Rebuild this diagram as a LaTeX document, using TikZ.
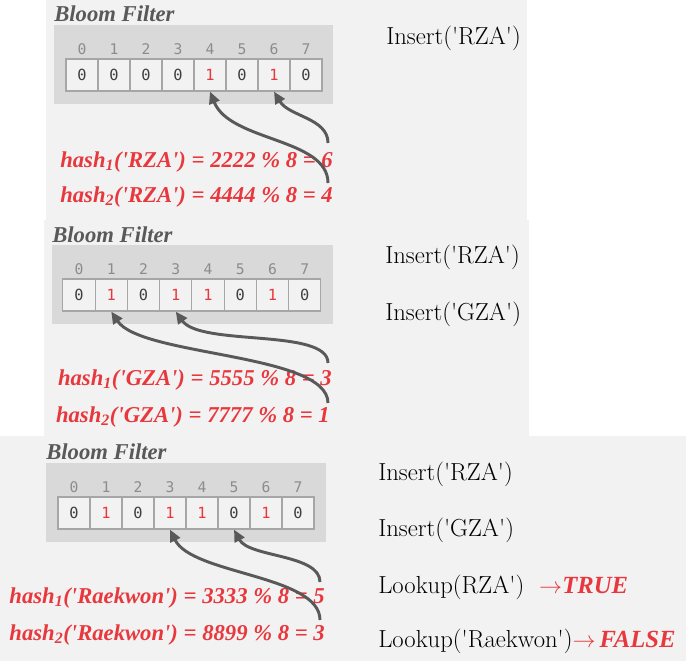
\documentclass[tikz,border=0pt]{standalone}
\usepackage{fontspec}
\usepackage{tikz}
\usetikzlibrary{arrows.meta}
\newfontfamily\bitfont{DejaVu Sans Mono}
\newfontfamily\headfont{Liberation Serif}
\newcommand{\squote}{\textquotesingle}

\definecolor{panelgray}{HTML}{F2F2F2}
\definecolor{boxgray}{HTML}{D9D9D9}
\definecolor{cellline}{HTML}{A6A6A6}
\definecolor{hashred}{HTML}{E8383D}
\definecolor{arrowgray}{HTML}{595959}
\definecolor{idxgray}{HTML}{8C8C8C}

\tikzset{
  cell/.style={draw=cellline, line width=0.9pt, fill=panelgray, minimum width=24pt,
    minimum height=24pt, inner sep=0pt, font=\bitfont\fontsize{11.5}{11.5}\selectfont},
  zero/.style={text=black!75},
  one/.style={text=hashred},
  idx/.style={font=\bitfont\fontsize{11}{11}\selectfont, text=idxgray},
  title/.style={font=\headfont\bfseries\itshape\fontsize{17}{17}\selectfont, text=arrowgray,
    anchor=west, inner sep=0pt},
  hash/.style={font=\headfont\bfseries\itshape\fontsize{17}{17}\selectfont, text=hashred,
    anchor=east, inner sep=0pt},
  op/.style={font=\fontsize{18.5}{18.5}\selectfont, anchor=west, inner sep=0pt},
  hit/.style={-{Triangle[length=9pt,width=8pt]}, draw=arrowgray, line width=2.2pt},
}

\begin{document}
\begin{tikzpicture}[x=0.75pt, y=-0.75pt]
    \useasboundingbox (0,0) rectangle (686,661);
    % three screenshots
    \fill[panelgray] (46,0) rectangle (527,220);
    \fill[panelgray] (44,220) rectangle (529,436);
    \fill[panelgray] (0,436) rectangle (686,661);

    % first: insert RZA
    \node[title] (ta) at (54,14) {Bloom Filter};
    \fill[boxgray] (54,25) rectangle (333,104);
    \foreach \v/\c [count=\i from 0] in {0/zero,0/zero,0/zero,0/zero,1/one,0/zero,1/one,0/zero} {
        \node[idx] (ia\i) at ({82+32*\i},49) {\i};
        \node[cell, \c] (a\i) at ({82+32*\i},75) {\v};
    }
    \node[hash] (ha1) at (333,162) {hash\textsubscript{1}(\squote RZA\squote) = 2222 \% 8 = 6};
    \node[hash] (ha2) at (333,197) {hash\textsubscript{2}(\squote RZA\squote) = 4444 \% 8 = 4};
    \coordinate (sa1) at (328,143);
    \coordinate (sa2) at (328,183);
    \draw[hit] (sa1) .. controls +(0,-25) and +(15,25) .. (a6.south);
    \draw[hit] (sa2) .. controls +(0,-45) and +(20,50) .. (a4.south);
    \node[op] (oa1) at (386,38) {Insert(\squote RZA\squote)};

    % second: insert GZA
    \node[title] (tb) at (52,235) {Bloom Filter};
    \fill[boxgray] (52,245) rectangle (333,324);
    \foreach \v/\c [count=\i from 0] in {0/zero,1/one,0/zero,1/one,1/one,0/zero,1/one,0/zero} {
        \node[idx] (ib\i) at ({79+32.25*\i},269) {\i};
        \node[cell, \c, minimum width=24.2pt] (b\i) at ({79+32.25*\i},295) {\v};
    }
    \node[hash] (hb1) at (332,380) {hash\textsubscript{1}(\squote GZA\squote) = 5555 \% 8 = 3};
    \node[hash] (hb2) at (330,417) {hash\textsubscript{2}(\squote GZA\squote) = 7777 \% 8 = 1};
    \coordinate (sb1) at (328,363);
    \coordinate (sb2) at (328,403);
    \draw[hit] (sb1) .. controls +(0,-35) and +(25,35) .. (b3.south);
    \draw[hit] (sb2) .. controls +(0,-50) and +(30,45) .. (b1.south);
    \node[op] (ob1) at (385,257) {Insert(\squote RZA\squote)};
    \node[op] (ob2) at (385,314) {Insert(\squote GZA\squote)};

    % third: lookups
    \node[title] (tc) at (46,452) {Bloom Filter};
    \fill[boxgray] (46,463) rectangle (326,542);
    \foreach \v/\c [count=\i from 0] in {0/zero,1/one,0/zero,1/one,1/one,0/zero,1/one,0/zero} {
        \node[idx] (ic\i) at ({74+32*\i},487) {\i};
        \node[cell, \c] (c\i) at ({74+32*\i},513) {\v};
    }
    \node[hash] (hc1) at (325,598) {hash\textsubscript{1}(\squote Raekwon\squote) = 3333 \% 8 = 5};
    \node[hash] (hc2) at (325,635) {hash\textsubscript{2}(\squote Raekwon\squote) = 8899 \% 8 = 3};
    \coordinate (sc1) at (320,582);
    \coordinate (sc2) at (320,620);
    \draw[hit] (sc1) .. controls +(0,-28) and +(15,28) .. (c5.south);
    \draw[hit] (sc2) .. controls +(0,-45) and +(22,45) .. (c3.south);
    \node[op] (oc1) at (378,474) {Insert(\squote RZA\squote)};
    \node[op] (oc2) at (378,530) {Insert(\squote GZA\squote)};
    \node[op] (oc3) at (378,587) {Lookup(RZA\squote)\ \ {\color{hashred}$\rightarrow$\headfont\bfseries\itshape TRUE}};
    \node[op] (oc4) at (378,641) {Lookup(\squote Raekwon\squote){\color{hashred}$\rightarrow$\,\headfont\bfseries\itshape FALSE}};
\end{tikzpicture}
\end{document}
